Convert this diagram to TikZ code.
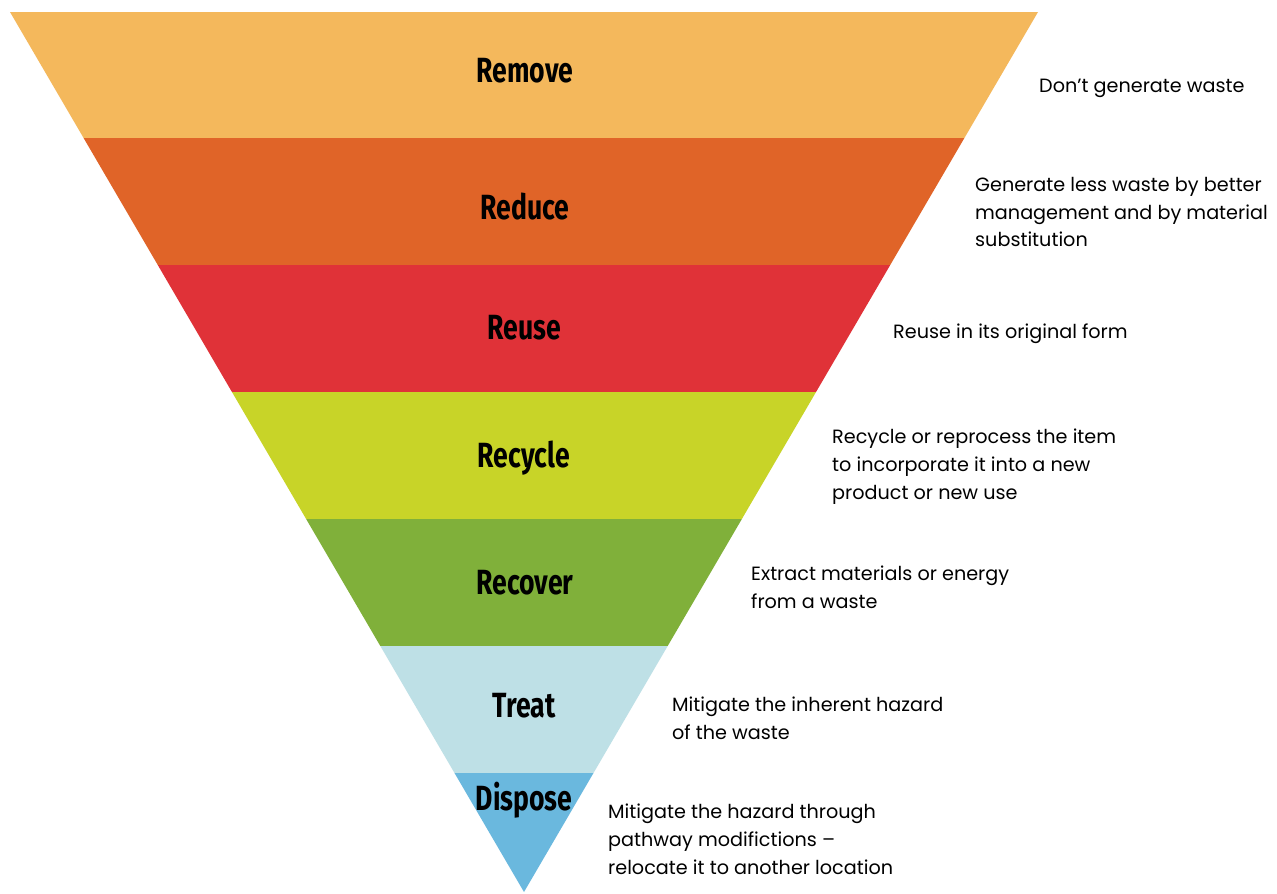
\documentclass[tikz,border=0pt]{standalone}
\usepackage{fontspec}
\newfontfamily\descfont{Poppins}
\newfontfamily\labfont[FakeStretch=0.76]{Fira Sans}
\definecolor{cRemove}{HTML}{F4B85C}
\definecolor{cReduce}{HTML}{E06428}
\definecolor{cReuse}{HTML}{E03238}
\definecolor{cRecycle}{HTML}{C8D428}
\definecolor{cRecover}{HTML}{80B03A}
\definecolor{cTreat}{HTML}{BEE0E6}
\definecolor{cDispose}{HTML}{6AB8DE}
\tikzset{
  lab/.style={font=\labfont\bfseries\fontsize{35}{38}\selectfont, text=black, inner sep=0pt},
  desc/.style={font=\descfont\fontsize{19.2}{27.7}\selectfont, text=black, anchor=north west, align=left, inner sep=0pt},
}
\begin{document}
\begin{tikzpicture}[x=1pt,y=-1pt]
\useasboundingbox (0,0) rectangle (1277,894);
\fill[white] (0,0) rectangle (1277,894);
\begin{scope}
  \clip (10,12) -- (1038,12) -- (524,892) -- cycle;
  \fill[cRemove]  (0,12)  rectangle (1277,138);
  \fill[cReduce]  (0,138) rectangle (1277,265);
  \fill[cReuse]   (0,265) rectangle (1277,392);
  \fill[cRecycle] (0,392) rectangle (1277,519);
  \fill[cRecover] (0,519) rectangle (1277,646);
  \fill[cTreat]   (0,646) rectangle (1277,773);
  \fill[cDispose] (0,773) rectangle (1277,894);
\end{scope}
\node[lab] (remove)  at (525,71)  {Remove};
\node[lab] (reduce)  at (525,207) {Reduce};
\node[lab] (reuse)   at (524,328) {Reuse};
\node[lab] (recycle) at (524,458) {Recycle};
\node[lab] (recover) at (525,583) {Recover};
\node[lab] (treat)   at (524,706) {Treat};
\node[lab] (dispose) at (524,800) {Dispose};
\node[desc] (dremove)  at (1039,79)  {Don’t generate waste};
\node[desc] (dreduce)  at (975,177)  {Generate less waste by better\\management and by material\\substitution};
\node[desc] (dreuse)   at (893,324)  {Reuse in its original form};
\node[desc] (drecycle) at (832,429)  {Recycle or reprocess the item\\to incorporate it into a new\\product or new use};
\node[desc] (drecover) at (751,566)  {Extract materials or energy\\from a waste};
\node[desc] (dtreat)   at (672,697)  {Mitigate the inherent hazard\\of the waste};
\node[desc] (ddispose) at (608,804)  {Mitigate the hazard through\\pathway modifictions –\\relocate it to another location};
\end{tikzpicture}
\end{document}
